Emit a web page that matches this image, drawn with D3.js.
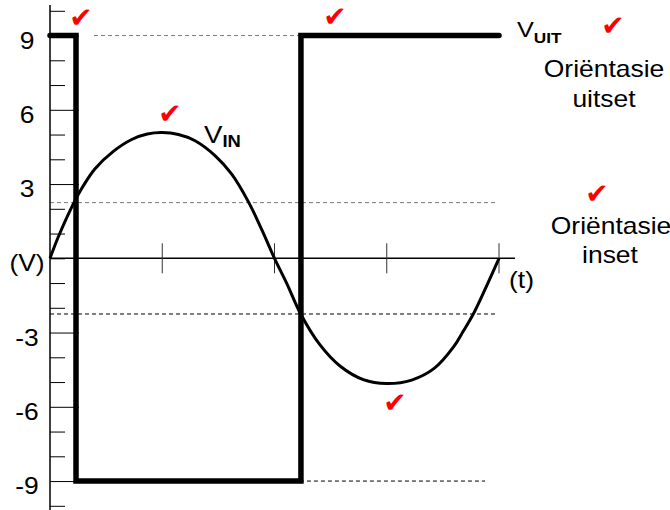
<!DOCTYPE html>
<html>
<head>
<meta charset="utf-8">
<script src="https://cdn.jsdelivr.net/npm/d3@7"></script>
<style>
  html, body { margin: 0; padding: 0; background: #fff; }
  svg { display: block; }
  text { font-family: "Liberation Sans", Arial, sans-serif; fill: #000; }
</style>
</head>
<body>
<svg id="chart" width="670" height="510"></svg>
<script>
// ---- data ----
const yTickValues = d3.range(-10, 11);
const yLabelValues = [9, 6, 3, 0, -3, -6, -9];
const yLabelTexts = ["9", "6", "3", "(V)", "-3", "-6", "-9"];
const xTickValues = [90, 180, 270, 360];

// V_IN (input): time in degrees, volts
const vinT = [0, 6.7, 18.7, 25.4, 36.1, 50.8, 65.5, 78, 90, 103, 116.3, 132.3, 145.7, 159, 169.7, 180,
              189.8, 201, 216.5, 232.5, 251.2, 270, 290, 308, 324, 331.3, 339.4, 350, 360];
const vinV = [0, 0.87, 2.2, 2.82, 3.62, 4.32, 4.8, 5.02, 5.08, 5.0, 4.75, 4.15, 3.4, 2.29, 1.17, 0,
              -1.01, -2.25, -3.5, -4.35, -4.9, -5.06, -4.92, -4.45, -3.55, -2.95, -2.25, -1.12, 0];

// V_UIT (output) square wave
const vuitT = [0, 20.85, 20.85, 201.2, 201.2, 360];
const vuitV = [9, 9, -9, -9, 9, 9];

// dashed guide lines
const guideLevels = [9, 2.25, -2.25, -9];
const guideStart = [35.3, 0, 0, 200.4];
const guideEnd = [200.4, 359, 359, 348.8];
const guideColors = ["#7a7a7a", "#7a7a7a", "#000", "#000"];

// ---- scales ----
const svg = d3.select("#chart");
const x = d3.scaleLinear().domain([0, 360]).range([50, 499]);
const y = d3.scaleLinear().domain([-10, 10]).range([505.8, 10.8]);
const SX = 1.15; // horizontal stretch of the lettering

function label(px, py, str, size, anchor, opts = {}) {
  const g = svg.append("g").attr("transform", `translate(${px},${py}) scale(${opts.sx || SX},1)`);
  const t = g.append("text")
    .attr("text-anchor", anchor)
    .attr("font-size", size)
    .attr("font-weight", opts.bold ? "bold" : "normal")
    .text(str);
  if (opts.fill) t.style("fill", opts.fill);
  if (opts.family) t.style("font-family", opts.family);
  return g;
}

// ---- dashed guides ----
svg.append("g").selectAll("line")
  .data(guideLevels)
  .join("line")
  .attr("x1", (d, i) => x(guideStart[i]))
  .attr("x2", (d, i) => x(guideEnd[i]))
  .attr("y1", d => y(d))
  .attr("y2", d => y(d))
  .attr("stroke", (d, i) => guideColors[i])
  .attr("stroke-width", 1)
  .attr("stroke-dasharray", "4,3");

// ---- y axis ----
const yAxis = d3.axisRight(y).tickValues(yTickValues).tickSize(15).tickFormat("");
const yg = svg.append("g").attr("transform", "translate(50,0)").call(yAxis);
yg.select(".domain").remove();
yg.selectAll(".tick line")
  .attr("stroke", "#000")
  .attr("stroke-width", 1)
  .attr("x2", d => (d !== 0 && d % 3 === 0) ? 29 : 15);
svg.append("line")
  .attr("x1", 50).attr("x2", 50).attr("y1", 5).attr("y2", 510)
  .attr("stroke", "#000").attr("stroke-width", 1.5);

// y labels
yLabelValues.forEach((v, i) => {
  label(27, y(v) + 13, yLabelTexts[i], 23, "middle");
});

// ---- x axis ----
svg.append("line")
  .attr("x1", x(0)).attr("x2", 515)
  .attr("y1", y(0)).attr("y2", y(0))
  .attr("stroke", "#000").attr("stroke-width", 1.5);
svg.append("g").selectAll("line")
  .data(xTickValues)
  .join("line")
  .attr("x1", d => x(d)).attr("x2", d => x(d))
  .attr("y1", y(0) - 15).attr("y2", y(0) + 15)
  .attr("stroke", "#333").attr("stroke-width", 1);
label(509, 288, "(t)", 23, "start");

// ---- V_IN curve ----
const vin = vinT.map((t, i) => [t, vinV[i]]);
svg.append("path")
  .datum(vin)
  .attr("fill", "none")
  .attr("stroke", "#000")
  .attr("stroke-width", 3)
  .attr("d", d3.line().x(d => x(d[0])).y(d => y(d[1])).curve(d3.curveCatmullRom.alpha(0.5)));

// ---- V_UIT square wave ----
const vuit = vuitT.map((t, i) => [t, vuitV[i]]);
svg.append("path")
  .datum(vuit)
  .attr("fill", "none")
  .attr("stroke", "#000")
  .attr("stroke-width", 5.5)
  .attr("stroke-linejoin", "miter")
  .attr("stroke-linecap", "round")
  .attr("d", d3.line().x(d => x(d[0])).y(d => y(d[1])));

// ---- labels ----
// V_IN
const vinLbl = svg.append("g").attr("transform", `translate(204,142.7) scale(${SX},1)`);
const vinText = vinLbl.append("text").attr("font-size", 24);
vinText.append("tspan").text("V");
vinText.append("tspan").attr("font-size", 16).attr("font-weight", "bold").attr("dy", 4).text("IN");

// V_UIT
const vuitLbl = svg.append("g").attr("transform", `translate(517,37) scale(${SX},1)`);
const vuitText = vuitLbl.append("text").attr("font-size", 22);
vuitText.append("tspan").text("V");
vuitText.append("tspan").attr("font-size", 15).attr("font-weight", "bold").attr("dy", 6).text("UIT");

// Orientation notes
label(604, 77.3, "Oriëntasie", 23, "middle");
label(604, 106.7, "uitset", 23, "middle");
label(611, 234, "Oriëntasie", 23, "middle");
label(610, 263.3, "inset", 23, "middle");

// ---- red check marks ----
const checks = [[81, 17], [335, 16], [613, 25], [170, 113], [597, 193], [395, 402]];
checks.forEach(([cx, cy]) => {
  svg.append("text")
    .attr("x", cx).attr("y", cy + 10)
    .attr("text-anchor", "middle")
    .attr("font-size", 28)
    .style("font-family", "DejaVu Sans")
    .style("fill", "#ff0000")
    .text("\u2714");
});
</script>
</body>
</html>
